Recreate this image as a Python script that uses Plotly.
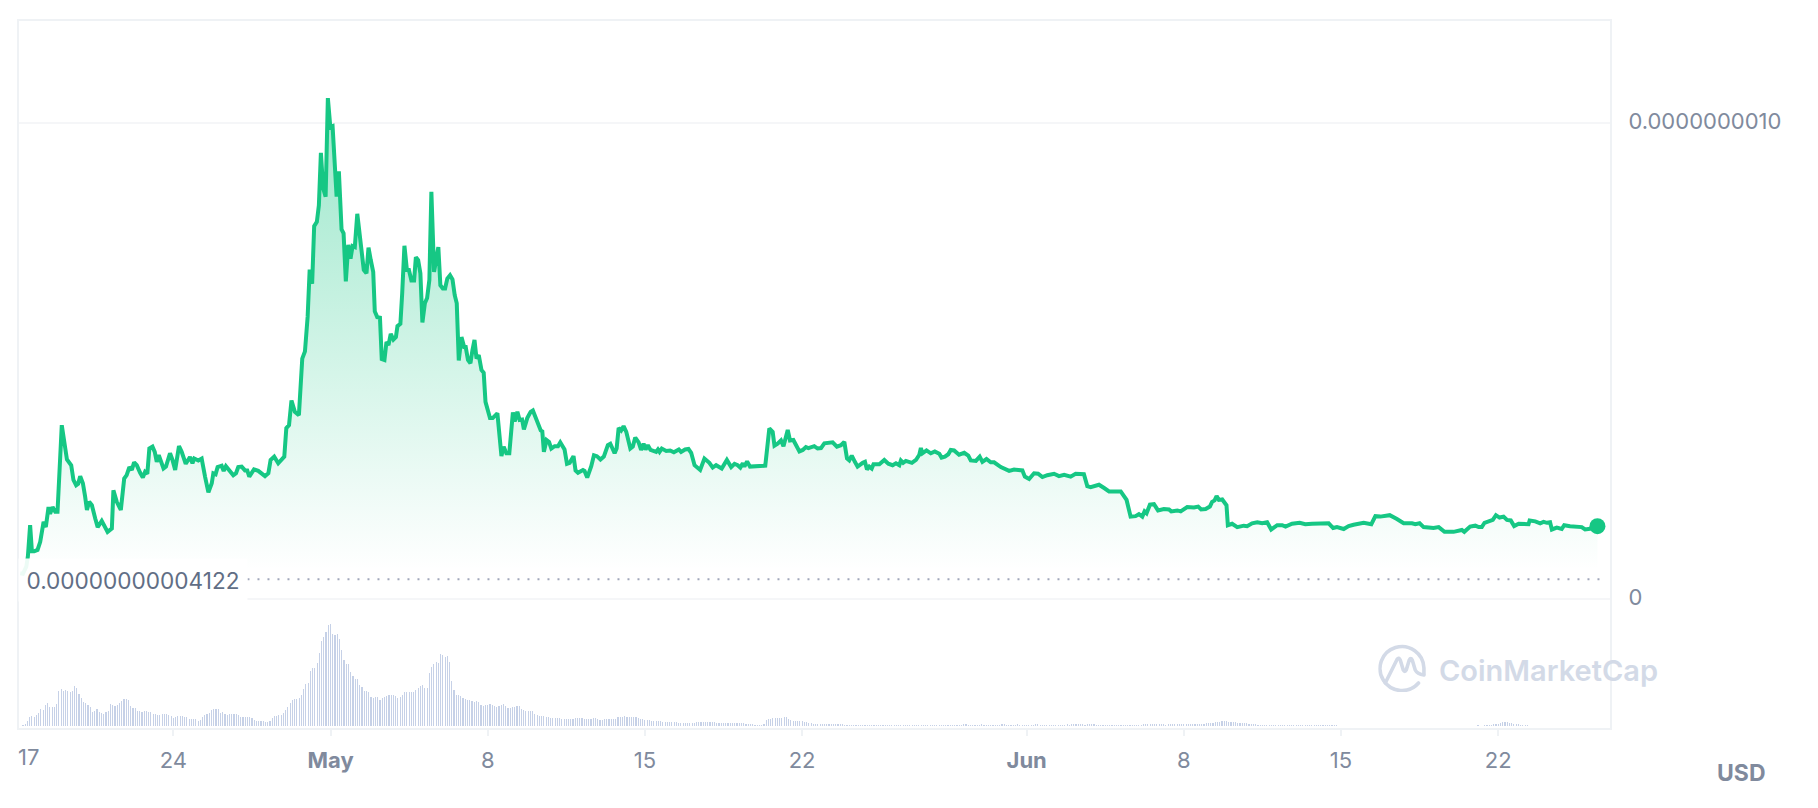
import base64

import pandas as pd
import plotly.graph_objects as go

start_date = pd.Timestamp("2023-04-17")

# days after 17 Apr, price in 1e-12 USD
day_offsets = [
    0.18, 0.30, 0.45, 0.52, 0.62, 0.70, 0.80, 0.95, 1.07, 1.22,
    1.32, 1.44, 1.51, 1.62, 1.74, 1.84, 2.03, 2.26, 2.45, 2.55,
    2.67, 2.76, 2.85, 2.97, 3.07, 3.15, 3.25, 3.37, 3.52, 3.63,
    3.81, 3.93, 4.07, 4.26, 4.33, 4.48, 4.66, 4.81, 4.92, 5.04,
    5.15, 5.25, 5.37, 5.52, 5.64, 5.74, 5.84, 5.93, 6.07, 6.17,
    6.26, 6.35, 6.44, 6.56, 6.67, 6.85, 6.96, 7.08, 7.25, 7.37,
    7.55, 7.74, 7.85, 7.93, 8.11, 8.26, 8.41, 8.56, 8.71, 8.78,
    8.88, 8.97, 9.15, 9.24, 9.34, 9.52, 9.67, 9.79, 9.89, 10.04,
    10.19, 10.29, 10.38, 10.59, 10.78, 11.08, 11.23, 11.33,
    11.49, 11.67, 11.82, 11.94, 12.03, 12.15, 12.26, 12.41, 12.59, 12.74,
    12.86, 12.98, 13.07, 13.18, 13.27, 13.39, 13.48, 13.57, 13.67, 13.78,
    13.88, 13.99, 14.09, 14.19, 14.27, 14.37, 14.49, 14.58, 14.68, 14.79,
    14.89, 14.98, 15.08, 15.19, 15.28, 15.38, 15.48, 15.60, 15.69, 15.79,
    15.90, 15.97, 16.08, 16.20, 16.28, 16.40, 16.49, 16.58, 16.68, 16.80,
    16.91, 16.98, 17.11, 17.19, 17.29, 17.40, 17.49, 17.60, 17.72, 17.80,
    17.90, 18.00, 18.09, 18.20, 18.30, 18.40, 18.49, 18.61, 18.72, 18.80,
    18.89, 19.00, 19.10, 19.20, 19.32, 19.43, 19.53, 19.62, 19.71, 19.83,
    19.95, 20.02, 20.12, 20.23, 20.32, 20.41, 20.50, 20.60, 20.72, 20.82,
    20.90, 21.02, 21.10, 21.22, 21.43, 21.61, 21.71, 21.83, 21.96,
    22.12, 22.20, 22.32, 22.42, 22.53, 22.61, 22.76, 22.91, 23.01, 23.16,
    23.36, 23.43, 23.50, 23.62, 23.73, 23.83, 23.98, 24.13, 24.23, 24.42,
    24.53, 24.65, 24.82, 24.91, 25.02, 25.24, 25.31, 25.43, 25.61, 25.73,
    25.86, 26.02, 26.17, 26.35, 26.46, 26.65, 26.74, 26.83, 26.94, 27.05,
    27.17, 27.35, 27.46, 27.57, 27.72, 27.83, 27.94, 28.03, 28.13, 28.25,
    28.50, 28.58, 28.65, 28.75, 28.95, 29.12, 29.29, 29.51, 29.61, 29.79,
    29.94, 30.06, 30.21, 30.46, 30.65, 30.87, 31.02, 31.17, 31.42, 31.65,
    31.84, 31.99, 32.13, 32.25, 32.36, 32.43, 32.55, 32.68, 32.88, 33.14,
    33.36, 33.54, 33.69, 33.77, 33.91, 34.06, 34.17, 34.36, 34.46, 34.61,
    34.88, 35.03, 35.17, 35.28, 35.54, 35.69, 35.84, 35.99, 36.17, 36.36,
    36.55, 36.73, 36.88, 37.00, 37.10, 37.21, 37.35, 37.47, 37.70, 37.80,
    37.89, 37.99, 38.10, 38.18, 38.44, 38.66, 38.84, 39.03, 39.18, 39.33,
    39.40, 39.50, 39.62, 39.89, 40.07, 40.22, 40.29, 40.36, 40.54, 40.73,
    40.91, 41.11, 41.21, 41.36, 41.51, 41.62, 41.77, 41.99, 42.22, 42.40,
    42.51, 42.74, 42.91, 43.03, 43.21, 43.40, 43.55, 43.85, 44.22, 44.44,
    44.81, 44.92, 45.11, 45.18,
    45.33, 45.51, 45.70, 45.92, 46.22, 46.44, 46.67, 46.96, 47.18, 47.55,
    47.70, 47.85, 48.22, 48.45, 48.67, 49.19, 49.45, 49.63, 49.85, 50.00,
    50.15, 50.25, 50.34, 50.49, 50.67, 50.85, 51.11, 51.34, 51.44, 51.71,
    51.86, 52.15, 52.45, 52.64, 52.77, 52.97, 53.16, 53.26, 53.37, 53.46,
    53.56, 53.71, 53.90, 53.96, 54.15, 54.38, 54.67, 54.82, 55.04, 55.27,
    55.49, 55.71, 55.89, 56.16, 56.38, 56.53, 56.82, 57.16,
    57.41, 57.71, 58.08, 58.45, 58.65, 58.82, 59.12, 59.34, 59.56, 59.79,
    60.01, 60.35, 60.53, 60.75, 61.17, 61.49, 61.79, 62.16, 62.31, 62.50,
    62.68, 63.12, 63.35, 63.61, 64.01, 64.38, 64.49, 64.75, 64.98, 65.13,
    65.27, 65.39, 65.64, 65.76, 65.90, 66.06, 66.24, 66.39, 66.56, 66.71,
    66.91, 67.13, 67.35, 67.40, 67.65, 67.87, 68.02, 68.17, 68.31, 68.39,
    68.61, 68.83, 68.94, 69.20, 69.72, 69.87, 70.17, 70.42,
]
price_e12 = [
    54, 53, 68, 89, 155, 100, 100, 103, 120, 162,
    151, 193, 179, 193, 183, 183, 365, 293, 281, 250,
    239, 242, 258, 243, 215, 187, 204, 197, 169, 151,
    164, 155, 141, 148, 228, 204, 187, 253, 260, 277,
    271, 287, 281, 265, 255, 267, 263, 316, 320, 309,
    288, 302, 288, 274, 278, 306, 292, 271, 321, 309,
    284, 298, 285, 295, 291, 295, 257, 224, 243, 264,
    262, 277, 280, 269, 279, 270, 260, 264, 277, 278,
    270, 270, 257, 272, 269, 258, 264, 292,
    299, 285, 292, 299, 359, 365, 417, 393, 386, 505,
    520, 593, 692, 662, 783, 792, 827, 937, 863, 845,
    1052, 991, 993, 911, 845, 898, 776, 768, 667, 744,
    715, 741, 739, 809, 775, 722, 691, 684, 738, 712,
    687, 604, 592, 591, 504, 502, 540, 533, 557, 545,
    550, 573, 578, 642, 742, 691, 691, 669, 669, 718,
    712, 684, 581, 621, 632, 670, 855, 687, 712, 739,
    659, 652, 652, 673, 680, 671, 638, 621, 501, 550,
    529, 529, 502, 495, 523, 544, 505, 512, 481, 475,
    414, 397, 380, 380, 390, 300, 320, 306, 306,
    392, 373, 393, 376, 377, 356, 380, 393, 396, 380,
    354, 352, 309, 334, 330, 316, 321, 321, 329, 314,
    284, 286, 300, 270, 265, 271, 269, 255, 279, 302,
    300, 293, 299, 323, 326, 306, 316, 359, 354, 363,
    351, 316, 320, 339, 329, 313, 326, 314, 323, 313,
    309, 314, 309, 316, 311, 312, 308, 314, 309, 314,
    315, 307, 281, 271, 295, 286, 276, 281, 274, 292,
    277, 284, 281, 276, 285, 278, 289, 278, 278, 279,
    280, 358, 351, 322, 326, 333, 321, 355, 333, 334,
    310, 313, 319, 317, 321, 316, 317, 327, 329, 329,
    320, 323, 330, 295, 291, 301, 288, 278, 286, 288,
    272, 278, 274, 283, 283, 292, 284, 281, 285, 281,
    291, 286, 290, 286, 292, 303, 317, 306, 312, 306,
    310, 305, 297, 299, 304, 313, 312, 303, 307, 301,
    291, 290, 299, 288, 294, 287, 287, 277, 269, 272,
    270, 257, 252, 257,
    264, 263, 256, 260, 263, 258, 261, 257, 263, 262,
    237, 235, 240, 233, 226, 226, 208, 173, 174, 178,
    173, 184, 180, 198, 199, 186, 189, 188, 184, 186,
    184, 193, 192, 194, 188, 189, 194, 204, 207, 216,
    208, 209, 197, 155, 158, 151, 154, 153, 159, 161,
    159, 161, 146, 155, 155, 152, 158, 160,
    157, 158, 158, 159, 149, 151, 147, 153, 156, 158,
    160, 157, 174, 173, 176, 168, 159, 159, 157, 159,
    151, 149, 151, 141, 141, 145, 141, 152, 154, 151,
    151, 160, 163, 166, 176, 171, 173, 166, 165, 153,
    158, 158, 157, 165, 163, 159, 162, 160, 161, 146,
    150, 147, 155, 153, 151, 146, 148, 153,
]
assert len(day_offsets) == len(price_e12)

# relative volume, one bar every 2.4 hours
volumes = [
    1, 2, 5, 9, 10, 9, 11, 13, 17, 16,
    21, 23, 19, 19, 19, 22, 35, 37, 35, 36,
    35, 34, 35, 40, 38, 32, 28, 24, 23, 21,
    19, 14, 15, 17, 14, 13, 12, 14, 15, 22,
    21, 20, 21, 23, 25, 27, 27, 26, 20, 18,
    18, 15, 15, 14, 15, 15, 14, 14, 12, 12,
    11, 11, 12, 12, 12, 11, 10, 8, 9, 10,
    10, 10, 9, 9, 7, 7, 7, 7, 5, 6,
    9, 11, 12, 13, 16, 17, 17, 17, 13, 14,
    12, 11, 12, 12, 12, 12, 11, 9, 9, 9,
    9, 9, 8, 6, 5, 5, 5, 5, 4, 4, 5,
    8, 10, 10, 11, 11, 13, 16, 19, 23, 26,
    27, 27, 28, 31, 37, 42, 43, 55, 58, 58,
    63, 73, 85, 89, 94, 101, 102, 92, 91, 92,
    87, 76, 66, 62, 62, 54, 50, 47, 47, 41,
    39, 35, 35, 34, 29, 28, 29, 29, 26, 28,
    29, 30, 31, 31, 31, 30, 28, 29, 31, 34,
    34, 34, 34, 34, 36, 38, 40, 41, 38, 38,
    53, 59, 62, 64, 63, 72, 71, 69, 70, 64,
    45, 36, 31, 31, 30, 28, 27, 26, 26, 25,
    24, 25, 24, 21, 20, 21, 21, 22, 21, 20,
    19, 20, 21, 22, 20, 18, 18,
    19, 19, 20, 20, 17, 16, 15, 15, 15, 15,
    12, 11, 10, 10, 10, 9, 9, 8, 8, 8,
    8, 8, 7, 7, 7, 7, 7, 7, 8, 8,
    8, 8, 7, 7, 7, 7, 8, 8, 7, 6,
    6, 7, 7, 7, 7, 7, 7, 9, 9, 9,
    10, 9, 9, 9, 9, 9, 8, 7, 7, 6,
    6, 6, 5, 5, 5, 5, 5, 4, 4, 4,
    4, 4, 4, 4, 3, 3, 3, 3, 3, 3,
    3, 3, 4, 4, 4, 4, 4, 4, 4, 4,
    4, 3, 3, 3, 3, 3, 3, 3, 3, 3,
    3, 3, 3, 3, 2, 2, 2, 2, 1, 1,
    1, 1, 2, 6, 7, 7, 8, 8, 8, 8,
    8, 9, 9, 7, 6, 5, 5, 5, 5, 5,
    4, 4, 3, 3, 2, 2, 2, 2, 2, 2,
    2, 2, 2, 2, 2,
    2, 2, 2, 1, 1, 1, 1, 1, 1, 1,
    1, 1, 1, 1, 1, 1, 1, 1, 1, 1,
    1, 1, 1, 1, 1, 1, 1, 1, 1, 1,
    1, 1, 1, 1, 1, 1, 1,
    1, 1, 1, 1, 1, 1, 1, 1, 1, 1,
    1, 1, 1, 1, 1,
    1, 1, 1, 1, 2, 2, 1, 1, 1, 1,
    1, 1, 2, 1, 1, 1, 1, 1, 1, 1,
    1, 2, 2, 1, 1, 1, 1, 1, 2, 1,
    1, 1, 1, 1, 1, 1, 2, 2, 1, 1,
    1, 1, 1, 1, 1, 1, 1, 1, 1, 1,
    2, 1, 2, 2, 2, 2, 2, 2, 1, 2,
    2, 2, 2, 1, 1, 1, 1, 1, 1, 1,
    1, 1, 1, 1, 1, 1, 1, 1, 1, 1,
    1, 1, 1, 1, 2, 2, 2, 2, 2, 2,
    2, 2, 2, 2, 1, 2, 2, 2, 2, 2,
    2, 2, 2, 2, 2, 2, 2, 2, 2, 2,
    2, 2, 3, 3, 3, 3, 4, 4, 4, 5,
    5, 5, 4, 4, 4, 4, 3, 3, 3, 3,
    3, 2, 2, 2, 2, 1, 1, 1, 1,
    1, 1, 1, 1, 1, 1, 1, 1, 1, 1,
    1, 1, 1, 1, 1, 1, 1, 1, 1, 1,
    1, 1, 1, 1, 1, 1,
    1, 1, 1, 1, 1, 1, 0, 0, 0, 0,
    0, 0, 0, 0, 0, 0, 0, 0, 0, 0,
    0, 0, 0, 0, 0, 0, 0, 0, 0, 0,
    0, 0, 0, 0, 0, 0, 0, 0, 0, 0,
    0, 0, 0, 0, 0, 0, 0, 0, 0, 0,
    0, 0, 0, 0, 0, 0, 0, 0, 0, 0,
    0, 0, 0, 0, 0, 0, 0, 0,
    1, 0, 0, 1, 1, 1, 1, 2, 2, 2,
    3, 4, 4, 4, 3, 3, 2, 2, 2, 1,
    1, 1, 1,
]

min_price = 4.122e-11
min_label = "0.00000000004122"
x_tick_dates = ["2023-04-24", "2023-05-01", "2023-05-08", "2023-05-15", "2023-05-22",
                "2023-06-01", "2023-06-08", "2023-06-15", "2023-06-22"]
x_tick_text = ["24", "<b>May</b>", "8", "15", "22", "<b>Jun</b>", "8", "15", "22"]
y_tick_vals = [0, 1e-9]
y_tick_text = ["0", "0.0000000010"]

GREEN = "#16c784"
AXIS_GREY = "#808a9d"
BORDER = "#eff2f5"
FONT = "Inter"

# plot box on the page, the page body adds an 8px margin
LEFT, RIGHT, TOP, BOTTOM = 17, 1610, 21, 728


def paper_x(px):
    return (px - LEFT) / (RIGHT - LEFT)


def paper_y(py):
    return (BOTTOM - py) / (BOTTOM - TOP)


times = start_date + pd.to_timedelta(day_offsets, unit="D")
prices = [p * 1e-12 for p in price_e12]
vol_times = pd.date_range("2023-04-17 07:12", periods=len(volumes), freq="144min")

fig = go.Figure()
fig.add_trace(go.Bar(x=vol_times, y=volumes, yaxis="y2", width=4.4e6,
                     marker=dict(color="rgba(190,203,228,0.88)", line=dict(width=0))))
fig.add_trace(go.Scatter(
    x=times, y=prices, mode="lines", line=dict(color=GREEN, width=4),
    fill="tozeroy",
    fillgradient=dict(type="vertical", start=1052e-12, stop=61e-12,
                      colorscale=[[0, "rgba(22,199,132,0.43)"], [1, "rgba(22,199,132,0)"]]),
))
fig.add_trace(go.Scatter(
    x=[start_date + pd.Timedelta(days=10.3), start_date + pd.Timedelta(days=70.55)],
    y=[min_price, min_price], mode="lines",
    line=dict(color="#a1a7bb", width=2, dash="2px,8px"),
))
fig.add_trace(go.Scatter(x=[times[-1]], y=[prices[-1]], mode="markers",
                         marker=dict(color=GREEN, size=16)))

logo_svg = (
    '<svg xmlns="http://www.w3.org/2000/svg" viewBox="0 0 48 48" width="144" height="144">'
    '<g fill="none" stroke="#d3dae7" stroke-width="3.6" stroke-linecap="round" stroke-linejoin="round">'
    '<path d="M40.3 39 A22 22 0 1 1 45.7 24 L45.7 30"/>'
    '<path d="M7 39 L19 15 Q20.5 13 22 16 L25 26 Q26.5 29 28 26 L31 16 Q32.5 13 34 16 L37 26 Q39 30 45.7 31"/>'
    '</g></svg>'
)
logo_src = "data:image/svg+xml;base64," + base64.b64encode(logo_svg.encode()).decode()

fig.update_layout(
    width=1802, height=792,
    margin=dict(l=LEFT - 8, r=1810 - RIGHT, t=TOP - 8, b=800 - BOTTOM),
    paper_bgcolor="white", plot_bgcolor="white",
    showlegend=False, bargap=0,
    font=dict(family=FONT, color=AXIS_GREY, size=22),
    xaxis=dict(
        type="date",
        range=["2023-04-17 03:00", "2023-06-26 23:30"],
        tickmode="array", tickvals=x_tick_dates, ticktext=x_tick_text,
        ticks="outside", ticklen=6, tickwidth=2, tickcolor=BORDER,
        ticklabelstandoff=6,
        showgrid=False, zeroline=False,
        showline=True, mirror=True, linecolor=BORDER, linewidth=2,
        tickfont=dict(family=FONT, size=22, color=AXIS_GREY),
    ),
    yaxis=dict(
        side="right",
        range=[-271e-12, 1214e-12],
        tickmode="array", tickvals=y_tick_vals, ticktext=y_tick_text,
        ticks="outside", ticklen=12, tickcolor="rgba(0,0,0,0)",
        ticklabelshift=-2,
        showgrid=True, gridcolor="#f5f6f8", gridwidth=2,
        zeroline=False,
        showline=True, mirror=True, linecolor=BORDER, linewidth=2,
        tickfont=dict(family=FONT, size=22, color=AXIS_GREY),
    ),
    yaxis2=dict(overlaying="y", range=[-2, 705], visible=False),
    annotations=[
        dict(xref="paper", yref="paper", x=paper_x(131), y=paper_y(580),
             xanchor="center", yanchor="middle",
             text=min_label, showarrow=False, width=226, height=40,
             bgcolor="rgba(255,255,255,0.92)", font=dict(family=FONT, size=22.6, color="#616e85")),
        dict(xref="paper", yref="paper", x=paper_x(26.5), y=paper_y(757),
             xanchor="center", yanchor="middle",
             text="17", showarrow=False, font=dict(family=FONT, size=22, color=AXIS_GREY)),
        dict(xref="paper", yref="paper", x=paper_x(1742), y=paper_y(773),
             xanchor="center", yanchor="middle",
             text="<b>USD</b>", showarrow=False, font=dict(family=FONT, size=23, color=AXIS_GREY)),
        dict(xref="paper", yref="paper", x=paper_x(1437), y=paper_y(670),
             xanchor="left", yanchor="middle",
             text="CoinMarketCap", showarrow=False,
             font=dict(family=FONT, size=29, color="#d3dae7", weight=600)),
    ],
    images=[dict(source=logo_src, xref="paper", yref="paper",
                 x=paper_x(1378), y=paper_y(644),
                 sizex=48 / (RIGHT - LEFT), sizey=48 / (BOTTOM - TOP),
                 sizing="stretch", xanchor="left", yanchor="top", layer="above")],
)

fig.write_html("out.html")
